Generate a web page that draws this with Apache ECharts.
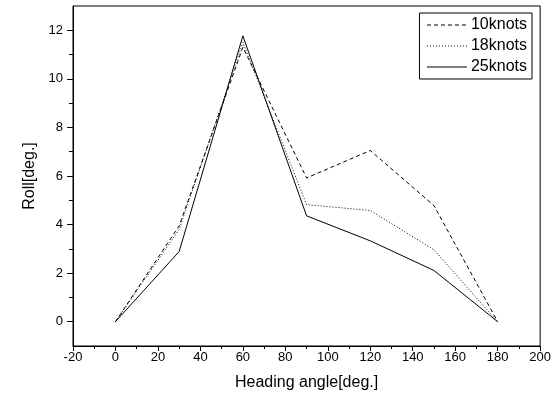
<!DOCTYPE html>
<html>
<head>
<meta charset="utf-8">
<script src="https://cdn.jsdelivr.net/npm/echarts@6/dist/echarts.min.js"></script>
<style>
  html, body { margin: 0; padding: 0; background: #fff; }
  #chart { width: 554px; height: 405px; }
</style>
</head>
<body>
<div id="chart"></div>
<script>
// Heading angles (deg) and roll response (deg) per ship speed
const headings = [0, 30, 60, 90, 120, 150, 180];
const roll10 = [0, 3.95, 11.3, 5.92, 7.05, 4.78, 0];
const roll18 = [0, 3.8, 11.5, 4.82, 4.58, 2.96, 0];
const roll25 = [0, 2.89, 11.77, 4.36, 3.33, 2.11, 0];
const seriesNames = ['10knots', '18knots', '25knots'];
const yMajorTicks = [0, 2, 4, 6, 8, 10, 12];
const yMinorTicks = [1, 3, 5, 7, 9, 11];

const font = 'Liberation Sans, Arial, sans-serif';

function pairs(vals) {
  return headings.map((h, i) => [h, vals[i]]);
}

const chart = echarts.init(document.getElementById('chart'), null, { renderer: 'canvas' });

chart.setOption({
  animation: false,
  backgroundColor: '#fff',
  grid: {
    left: 73, right: 13, top: 6, bottom: 59,
    show: true, borderColor: '#000', borderWidth: 1
  },
  legend: {
    orient: 'vertical',
    right: 22, top: 13,
    itemWidth: 40, itemHeight: 10, itemGap: 5,
    padding: [4, 5, 4, 7],
    borderColor: '#000', borderWidth: 1,
    itemStyle: { color: 'transparent', borderWidth: 0 },
    lineStyle: { width: 1 },
    textStyle: { fontFamily: font, fontSize: 16, color: '#000', padding: [0, 0, 0, -1] },
    data: seriesNames
  },
  xAxis: {
    type: 'value',
    min: -20, max: 200, interval: 20,
    name: 'Heading angle[deg.]',
    nameLocation: 'middle', nameGap: 29,
    nameTextStyle: { fontFamily: font, fontSize: 16, color: '#000' },
    axisLine: { onZero: false, lineStyle: { color: '#000', width: 1 } },
    axisTick: { length: 5, lineStyle: { color: '#000' } },
    minorTick: { show: true, splitNumber: 2, length: 3, lineStyle: { color: '#000' } },
    axisLabel: { fontFamily: font, fontSize: 13, color: '#000', margin: 5 },
    splitLine: { show: false }
  },
  yAxis: [
    {
      type: 'value',
      min: -1, max: 13,
      name: 'Roll[deg.]',
      nameLocation: 'middle', nameGap: 30,
      nameTextStyle: { fontFamily: font, fontSize: 16, color: '#000' },
      axisLine: { onZero: false, lineStyle: { color: '#000', width: 1 } },
      axisTick: { length: 6, customValues: yMajorTicks, lineStyle: { color: '#000' } },
      axisLabel: { fontFamily: font, fontSize: 13, color: '#000', margin: 10, customValues: yMajorTicks },
      splitLine: { show: false }
    },
    {
      type: 'value',
      min: -1, max: 13,
      position: 'left',
      offset: 0,
      axisLine: { show: false, onZero: false },
      axisTick: { length: 4, customValues: yMinorTicks, lineStyle: { color: '#000' } },
      axisLabel: { show: false },
      splitLine: { show: false }
    }
  ],
  series: [
    {
      name: seriesNames[0], type: 'line', data: pairs(roll10),
      symbol: 'none',
      lineStyle: { color: '#000', width: 1, type: [4, 3] },
      itemStyle: { color: '#000' }
    },
    {
      name: seriesNames[1], type: 'line', data: pairs(roll18),
      symbol: 'none',
      lineStyle: { color: '#000', width: 1, type: [1, 2] },
      itemStyle: { color: '#000' }
    },
    {
      name: seriesNames[2], type: 'line', data: pairs(roll25),
      symbol: 'none',
      lineStyle: { color: '#000', width: 1, type: 'solid' },
      itemStyle: { color: '#000' }
    }
  ]
});
</script>
</body>
</html>
